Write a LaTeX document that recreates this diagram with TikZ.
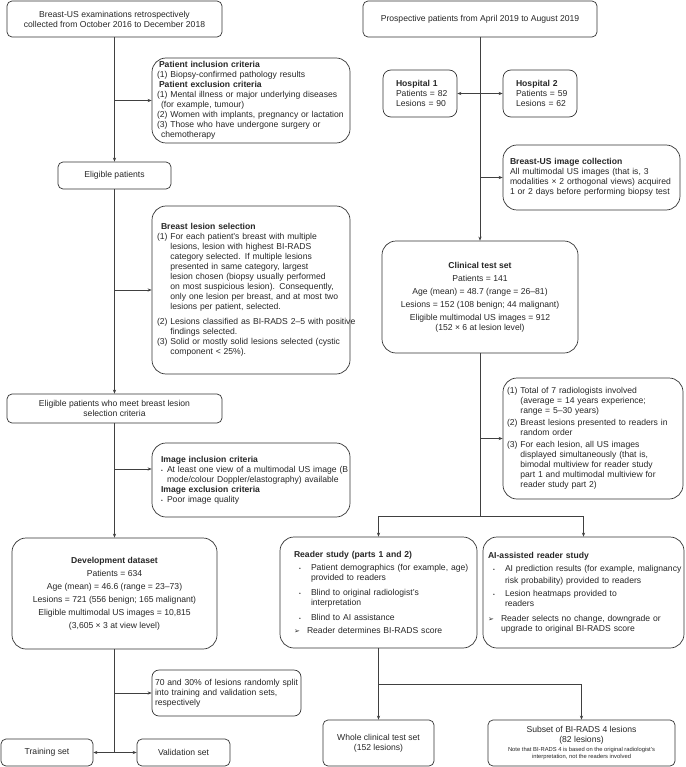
\documentclass[tikz,border=0pt]{standalone}
\usepackage{fontspec}
\setmainfont{Liberation Sans}
\newfontfamily\symfont{DejaVu Sans}
\usepackage{tikz}
\usetikzlibrary{arrows.meta}
\newcommand{\ind}{\phantom{(1) }}
\newcommand{\bul}{{\fontsize{5}{5}\selectfont\textbullet}}
\newcommand{\bitem}{\hspace*{5pt}\makebox[12pt][l]{\bul}}
\newcommand{\bcont}{\hspace*{17pt}}
\newcommand{\aitem}{\makebox[13pt][l]{{\symfont\fontsize{7}{7}\selectfont ➢}}}
\newcommand{\notefont}{\fontsize{5.8}{7}\selectfont}

\begin{document}
\begin{tikzpicture}[x=1pt, y=-1pt, font=\fontsize{8.6}{10}\selectfont,
    box/.style={draw=black!80, line width=0.7pt, rounded corners=5pt, inner sep=0pt, text=black!85, align=center},
    lbox/.style={box, align=left},
    round/.style={rounded corners=14pt},
    conn/.style={draw=black!75, line width=0.6pt},
    >={Stealth[length=4pt, width=3.2pt]}]
    \useasboundingbox (0,0) rectangle (685,767);

    \node[box, minimum width=215pt, minimum height=36pt] (1) at (114.5,19) {Breast-US examinations retrospectively\\collected from October 2016 to December 2018};
    \node[lbox, round, minimum height=85pt, text width=188pt, inner xsep=5pt] (2) at (251,100.5) {\hspace*{2pt}\textbf{Patient inclusion criteria}\\
        (1) Biopsy-confirmed pathology results\\
        \hspace*{2pt}\textbf{Patient exclusion criteria}\\
        \mbox{(1) Mental illness or major underlying diseases}\\
        \hspace*{4pt}(for example, tumour)\\
        \mbox{(2) Women with implants, pregnancy or lactation}\\
        (3) Those who have undergone surgery or\\
        \hspace*{4pt}chemotherapy};
    \node[box, minimum width=113pt, minimum height=27pt] (3) at (114.5,175.5) {Eligible patients};
    \node[lbox, round, minimum height=168pt, text width=188pt, inner xsep=5pt] (4) at (251,290) {\hspace*{4pt}\textbf{Breast lesion selection}\\
        (1) For each patient's breast with multiple\\
        \ind lesions, lesion with highest BI-RADS\\
        \ind category selected. If multiple lesions\\
        \ind presented in same category, largest\\
        \ind lesion chosen (biopsy usually performed\\
        \ind \mbox{on most suspicious lesion). Consequently,}\\
        \ind \mbox{only one lesion per breast, and at most two}\\
        \ind lesions per patient, selected.\\[5pt]
        \mbox{(2) Lesions classified as BI-RADS 2–5 with positive}\\
        \ind findings selected.\\
        \mbox{(3) Solid or mostly solid lesions selected (cystic}\\
        \ind component < 25\%).};
    \node[box, minimum width=215pt, minimum height=29pt] (5) at (114.5,408.5) {Eligible patients who meet breast lesion\\selection criteria};
    \node[lbox, round, minimum height=74pt, text width=180pt, inner xsep=9pt] (6) at (251,480) {\textbf{Image inclusion criteria}\\
        \mbox{\makebox[6pt][l]{\bul}At least one view of a multimodal US image (B}\\
        \hspace*{6pt}\mbox{mode/colour Doppler/elastography) available}\\
        \textbf{Image exclusion criteria}\\
        \makebox[6pt][l]{\bul}Poor image quality};
    \node[box, round, minimum width=205pt, minimum height=111pt] (7) at (114.5,593.5) {\textbf{Development dataset}\\[3pt]
        Patients = 634\\[3pt]
        Age (mean) = 46.6 (range = 23–73)\\[3pt]
        Lesions = 721 (556 benign; 165 malignant)\\[3pt]
        Eligible multimodal US images = 10,815\\[3pt]
        (3,605 × 3 at view level)};
    \node[lbox, rounded corners=7pt, minimum height=46pt, text width=143pt, inner xsep=3pt] (8) at (226.5,693) {\mbox{70 and 30\% of lesions randomly split}\\into training and validation sets,\\respectively};
    \node[box, minimum width=92pt, minimum height=27pt] (9) at (47,752.5) {Training set};
    \node[box, minimum width=93pt, minimum height=27pt] (10) at (183.5,752.5) {Validation set};

    \node[box, minimum width=234pt, minimum height=36pt] (11) at (480,19) {Prospective patients from April 2019 to August 2019};
    \node[lbox, rounded corners=8pt, minimum height=47pt, text width=56pt, inner xsep=9pt] (12) at (420,93.5) {\hspace*{4pt}\textbf{Hospital 1}\\\hspace*{4pt}Patients = 82\\\hspace*{4pt}Lesions = 90};
    \node[lbox, rounded corners=8pt, minimum height=47pt, text width=56pt, inner xsep=9pt] (13) at (540,93.5) {\hspace*{4pt}\textbf{Hospital 2}\\\hspace*{4pt}Patients = 59\\\hspace*{4pt}Lesions = 62};
    \node[lbox, round, minimum height=65pt, text width=163pt, inner xsep=7pt] (14) at (591.5,177.5) {\textbf{Breast-US image collection}\\
        All multimodal US images (that is, 3\\
        \mbox{modalities × 2 orthogonal views) acquired}\\
        \mbox{1 or 2 days before performing biopsy test}};
    \node[box, round, minimum width=196pt, minimum height=112pt] (15) at (480,297) {\textbf{Clinical test set}\\[3pt]
        Patients = 141\\[3pt]
        Age (mean) = 48.7 (range = 26–81)\\[3pt]
        Lesions = 152 (108 benign; 44 malignant)\\[3pt]
        Eligible multimodal US images = 912\\
        (152 × 6 at lesion level)};
    \node[lbox, round, minimum height=121pt, text width=172pt, inner xsep=4pt] (16) at (593,438.5) {(1) Total of 7 radiologists involved\\
        \ind(average = 14 years experience;\\
        \ind range = 5–30 years)\\[2pt]
        \mbox{(2) Breast lesions presented to readers in}\\
        \ind random order\\[2pt]
        (3) For each lesion, all US images\\
        \ind displayed simultaneously (that is,\\
        \ind bimodal multiview for reader study\\
        \ind \mbox{part 1 and multimodal multiview for}\\
        \ind reader study part 2)};
    \node[lbox, round, minimum height=111pt, text width=169pt, inner xsep=14pt] (17) at (378.5,592.5) {\textbf{Reader study (parts 1 and 2)}\\[3pt]
        \mbox{\bitem Patient demographics (for example, age)}\\
        \bcont provided to readers\\[5pt]
        \bitem Blind to original radiologist's\\
        \bcont interpretation\\[5pt]
        \bitem Blind to AI assistance\\[3pt]
        \aitem Reader determines BI-RADS score};
    \node[lbox, round, minimum height=111pt, text width=191pt, inner xsep=5pt] (18) at (583.5,592.5) {\textbf{AI-assisted reader study}\\[3pt]
        \mbox{\bitem AI prediction results (for example, malignancy}\\[2pt]
        \bcont risk probability) provided to readers\\[3pt]
        \bitem Lesion heatmaps provided to\\
        \bcont readers\\[5pt]
        \aitem Reader selects no change, downgrade or\\
        \hspace*{13pt}upgrade to original BI-RADS score};
    \node[box, minimum width=111pt, minimum height=46pt] (19) at (378.5,743) {Whole clinical test set\\(152 lesions)};
    \node[box, minimum width=187pt, minimum height=46pt] (20) at (581.5,743) {Subset of BI-RADS 4 lesions\\(82 lesions)\\[-1pt]
        {\notefont Note that BI-RADS 4 is based on the original radiologist's}\\[-3pt]
        {\notefont interpretation, not the readers involved}};

    \coordinate (a) at (114.5,752.5);
    \coordinate (b) at (480,516);
    \coordinate (c) at (378.5,684);

    \draw[conn, ->] (1) -- (3);
    \draw[conn, ->] (1.south |- 2.west) -- (2.west);
    \draw[conn, ->] (3) -- (5);
    \draw[conn, ->] (3.south |- 4.west) -- (4.west);
    \draw[conn, ->] (5) -- (7);
    \draw[conn, ->] ([yshift=11pt]6.west -| 5.south) -- ([yshift=11pt]6.west);
    \draw[conn] (7) -- (a);
    \draw[conn, ->] (7.south |- 8.west) -- (8.west);
    \draw[conn, <->] (9) -- (10);

    \draw[conn, ->] (11) -- (15);
    \draw[conn, <->] (12) -- (13);
    \draw[conn, ->] (11.south |- 14.west) -- (14.west);
    \draw[conn] (15) -- (b);
    \draw[conn, ->] (15.south |- 16.west) -- (16.west);
    \draw[conn, ->] (b) -| (17);
    \draw[conn, ->] (b) -| (18);
    \draw[conn, ->] (17) -- (19);
    \draw[conn, ->] (c) -| (20);
\end{tikzpicture}
\end{document}
